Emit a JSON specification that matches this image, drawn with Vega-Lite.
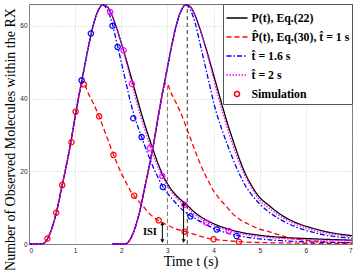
{
"$schema": "https://vega.github.io/schema/vega-lite/v6.json",
"width": 323, "height": 240,
"autosize": {"type": "none"},
"padding": {"left": 29, "top": 4, "right": 8, "bottom": 26},
"background": "white",
"config": {
 "view": {"stroke": "#777", "strokeWidth": 1},
 "axis": {"grid": true, "gridColor": "#aaa", "gridDash": [1,2], "gridWidth": 0.6, "domain": false, "ticks": false,
  "labelFont": "Liberation Sans", "labelFontSize": 6.5, "labelColor": "#222",
  "titleFont": "Liberation Serif", "titleFontSize": 14, "titleFontWeight": "normal", "titleColor": "black"}
},
"layer": [
 {
  "data": {"values": [
{"t":0,"y":0,"s":"a","p":1},{"t":0.27,"y":0,"s":"a","p":1},{"t":0.35,"y":0.5,"s":"a","p":1},{"t":0.4,"y":1.4,"s":"a","p":1},{"t":0.5,"y":4.5,"s":"a","p":1},{"t":0.6,"y":9,"s":"a","p":1},{"t":0.7,"y":15,"s":"a","p":1},{"t":0.8,"y":21,"s":"a","p":1},{"t":0.9,"y":27.5,"s":"a","p":1},{"t":1.0,"y":35,"s":"a","p":1},{"t":1.1,"y":42,"s":"a","p":1},{"t":1.2,"y":48.5,"s":"a","p":1},{"t":1.3,"y":55,"s":"a","p":1},{"t":1.4,"y":60.5,"s":"a","p":1},{"t":1.5,"y":64.2,"s":"a","p":1},{"t":1.6,"y":65.8,"s":"a","p":1},{"t":1.7,"y":65.2,"s":"a","p":1},{"t":1.8,"y":62.8,"s":"a","p":1},{"t":1.9,"y":59.3,"s":"a","p":1},{"t":2.0,"y":55.3,"s":"a","p":1},{"t":2.1,"y":51,"s":"a","p":1},{"t":2.2,"y":46.5,"s":"a","p":1},{"t":2.3,"y":42,"s":"a","p":1},{"t":2.4,"y":37.5,"s":"a","p":1},{"t":2.5,"y":33.2,"s":"a","p":1},{"t":2.6,"y":29.3,"s":"a","p":1},{"t":2.7,"y":25.5,"s":"a","p":1},{"t":2.8,"y":22,"s":"a","p":1},{"t":2.9,"y":19,"s":"a","p":1},{"t":3.0,"y":16.6,"s":"a","p":1},{"t":3.2,"y":13.2,"s":"a","p":1},{"t":3.4,"y":11,"s":"a","p":1},{"t":3.6,"y":8.6,"s":"a","p":1},{"t":3.8,"y":6.9,"s":"a","p":1},{"t":4.0,"y":5.6,"s":"a","p":1},{"t":4.3,"y":4.2,"s":"a","p":1},{"t":4.6,"y":3.2,"s":"a","p":1},{"t":5.0,"y":2.4,"s":"a","p":1},{"t":5.5,"y":1.8,"s":"a","p":1},{"t":6.0,"y":1.5,"s":"a","p":1},{"t":6.5,"y":1.25,"s":"a","p":1},{"t":7.0,"y":1.05,"s":"a","p":1},
{"t":1.8,"y":0,"s":"a","p":2},{"t":2.07,"y":0,"s":"a","p":2},{"t":2.15,"y":0.5,"s":"a","p":2},{"t":2.2,"y":1.4,"s":"a","p":2},{"t":2.3,"y":4.5,"s":"a","p":2},{"t":2.4,"y":9,"s":"a","p":2},{"t":2.5,"y":15,"s":"a","p":2},{"t":2.6,"y":21,"s":"a","p":2},{"t":2.7,"y":27.5,"s":"a","p":2},{"t":2.8,"y":35,"s":"a","p":2},{"t":2.9,"y":42,"s":"a","p":2},{"t":3.0,"y":48.5,"s":"a","p":2},{"t":3.1,"y":55,"s":"a","p":2},{"t":3.2,"y":60.5,"s":"a","p":2},{"t":3.3,"y":64.2,"s":"a","p":2},{"t":3.4,"y":65.8,"s":"a","p":2},{"t":3.5,"y":65.2,"s":"a","p":2},{"t":3.6,"y":62.8,"s":"a","p":2},{"t":3.7,"y":59.3,"s":"a","p":2},{"t":3.8,"y":55.3,"s":"a","p":2},{"t":3.9,"y":51,"s":"a","p":2},{"t":4.0,"y":46.5,"s":"a","p":2},{"t":4.1,"y":42,"s":"a","p":2},{"t":4.2,"y":37.5,"s":"a","p":2},{"t":4.3,"y":33.2,"s":"a","p":2},{"t":4.4,"y":29.3,"s":"a","p":2},{"t":4.5,"y":25.5,"s":"a","p":2},{"t":4.6,"y":22,"s":"a","p":2},{"t":4.7,"y":19,"s":"a","p":2},{"t":4.8,"y":16.6,"s":"a","p":2},{"t":5.0,"y":12.8,"s":"a","p":2},{"t":5.2,"y":10.6,"s":"a","p":2},{"t":5.4,"y":8.6,"s":"a","p":2},{"t":5.6,"y":7.0,"s":"a","p":2},{"t":5.8,"y":5.8,"s":"a","p":2},{"t":6.1,"y":4.5,"s":"a","p":2},{"t":6.4,"y":3.5,"s":"a","p":2},{"t":6.8,"y":2.6,"s":"a","p":2},{"t":7.0,"y":2.3,"s":"a","p":2},
{"t":0,"y":0,"s":"b","p":1},{"t":0.27,"y":0,"s":"b","p":1},{"t":0.35,"y":0.5,"s":"b","p":1},{"t":0.4,"y":1.4,"s":"b","p":1},{"t":0.5,"y":4.5,"s":"b","p":1},{"t":0.6,"y":9,"s":"b","p":1},{"t":0.7,"y":15,"s":"b","p":1},{"t":0.8,"y":21,"s":"b","p":1},{"t":0.9,"y":27.5,"s":"b","p":1},{"t":1.0,"y":35,"s":"b","p":1},{"t":1.1,"y":42,"s":"b","p":1},{"t":1.17,"y":44.3,"s":"b","p":1},{"t":1.3,"y":41,"s":"b","p":1},{"t":1.4,"y":38.5,"s":"b","p":1},{"t":1.5,"y":35.7,"s":"b","p":1},{"t":1.6,"y":32.4,"s":"b","p":1},{"t":1.7,"y":29,"s":"b","p":1},{"t":1.8,"y":25.6,"s":"b","p":1},{"t":1.9,"y":22.4,"s":"b","p":1},{"t":2.0,"y":19.5,"s":"b","p":1},{"t":2.1,"y":17,"s":"b","p":1},{"t":2.2,"y":14.6,"s":"b","p":1},{"t":2.3,"y":12.9,"s":"b","p":1},{"t":2.4,"y":11.4,"s":"b","p":1},{"t":2.5,"y":10,"s":"b","p":1},{"t":2.6,"y":8.5,"s":"b","p":1},{"t":2.7,"y":7.4,"s":"b","p":1},{"t":2.8,"y":6.5,"s":"b","p":1},{"t":3.0,"y":5.2,"s":"b","p":1},{"t":3.2,"y":4.1,"s":"b","p":1},{"t":3.4,"y":3.4,"s":"b","p":1},{"t":3.6,"y":2.6,"s":"b","p":1},{"t":3.8,"y":1.8,"s":"b","p":1},{"t":4.0,"y":1.3,"s":"b","p":1},{"t":4.3,"y":0.9,"s":"b","p":1},{"t":4.6,"y":0.6,"s":"b","p":1},{"t":5.0,"y":0.4,"s":"b","p":1},{"t":5.5,"y":0.3,"s":"b","p":1},{"t":6.0,"y":0.2,"s":"b","p":1},{"t":6.5,"y":0.15,"s":"b","p":1},{"t":7.0,"y":0.1,"s":"b","p":1},
{"t":1.8,"y":0,"s":"b","p":2},{"t":2.07,"y":0,"s":"b","p":2},{"t":2.15,"y":0.5,"s":"b","p":2},{"t":2.2,"y":1.4,"s":"b","p":2},{"t":2.3,"y":4.5,"s":"b","p":2},{"t":2.4,"y":9,"s":"b","p":2},{"t":2.5,"y":15,"s":"b","p":2},{"t":2.6,"y":21,"s":"b","p":2},{"t":2.7,"y":27.5,"s":"b","p":2},{"t":2.8,"y":35,"s":"b","p":2},{"t":2.9,"y":42,"s":"b","p":2},{"t":2.97,"y":44.3,"s":"b","p":2},{"t":3.1,"y":41,"s":"b","p":2},{"t":3.2,"y":38.5,"s":"b","p":2},{"t":3.3,"y":35.7,"s":"b","p":2},{"t":3.4,"y":32.4,"s":"b","p":2},{"t":3.5,"y":29,"s":"b","p":2},{"t":3.6,"y":25.6,"s":"b","p":2},{"t":3.7,"y":22.4,"s":"b","p":2},{"t":3.8,"y":19.5,"s":"b","p":2},{"t":3.9,"y":17,"s":"b","p":2},{"t":4.0,"y":14.6,"s":"b","p":2},{"t":4.1,"y":12.9,"s":"b","p":2},{"t":4.2,"y":11.4,"s":"b","p":2},{"t":4.3,"y":10,"s":"b","p":2},{"t":4.4,"y":8.5,"s":"b","p":2},{"t":4.5,"y":7.4,"s":"b","p":2},{"t":4.6,"y":6.5,"s":"b","p":2},{"t":4.8,"y":5.2,"s":"b","p":2},{"t":5.0,"y":4.1,"s":"b","p":2},{"t":5.2,"y":3.4,"s":"b","p":2},{"t":5.4,"y":2.6,"s":"b","p":2},{"t":5.6,"y":1.8,"s":"b","p":2},{"t":5.8,"y":1.3,"s":"b","p":2},{"t":6.1,"y":0.9,"s":"b","p":2},{"t":6.4,"y":0.6,"s":"b","p":2},{"t":6.8,"y":0.4,"s":"b","p":2},{"t":7.0,"y":0.35,"s":"b","p":2},
{"t":0,"y":0,"s":"c","p":1},{"t":0.27,"y":0,"s":"c","p":1},{"t":0.35,"y":0.5,"s":"c","p":1},{"t":0.4,"y":1.4,"s":"c","p":1},{"t":0.5,"y":4.5,"s":"c","p":1},{"t":0.6,"y":9,"s":"c","p":1},{"t":0.7,"y":15,"s":"c","p":1},{"t":0.8,"y":21,"s":"c","p":1},{"t":0.9,"y":27.5,"s":"c","p":1},{"t":1.0,"y":35,"s":"c","p":1},{"t":1.1,"y":42,"s":"c","p":1},{"t":1.2,"y":48.5,"s":"c","p":1},{"t":1.3,"y":55,"s":"c","p":1},{"t":1.4,"y":60.5,"s":"c","p":1},{"t":1.5,"y":64.2,"s":"c","p":1},{"t":1.6,"y":65.8,"s":"c","p":1},{"t":1.7,"y":64.3,"s":"c","p":1},{"t":1.8,"y":60.8,"s":"c","p":1},{"t":1.9,"y":55.5,"s":"c","p":1},{"t":2.0,"y":50,"s":"c","p":1},{"t":2.1,"y":44.5,"s":"c","p":1},{"t":2.2,"y":39,"s":"c","p":1},{"t":2.3,"y":34.5,"s":"c","p":1},{"t":2.4,"y":30.8,"s":"c","p":1},{"t":2.5,"y":27.3,"s":"c","p":1},{"t":2.6,"y":24,"s":"c","p":1},{"t":2.7,"y":20.9,"s":"c","p":1},{"t":2.8,"y":18.2,"s":"c","p":1},{"t":2.9,"y":15.8,"s":"c","p":1},{"t":3.0,"y":14,"s":"c","p":1},{"t":3.2,"y":11,"s":"c","p":1},{"t":3.4,"y":8.6,"s":"c","p":1},{"t":3.6,"y":7,"s":"c","p":1},{"t":3.8,"y":5.6,"s":"c","p":1},{"t":4.0,"y":4.3,"s":"c","p":1},{"t":4.3,"y":3,"s":"c","p":1},{"t":4.6,"y":2.1,"s":"c","p":1},{"t":5.0,"y":1.4,"s":"c","p":1},{"t":5.5,"y":0.9,"s":"c","p":1},{"t":6.0,"y":0.6,"s":"c","p":1},{"t":6.5,"y":0.45,"s":"c","p":1},{"t":7.0,"y":0.35,"s":"c","p":1},
{"t":1.8,"y":0,"s":"c","p":2},{"t":2.07,"y":0,"s":"c","p":2},{"t":2.15,"y":0.5,"s":"c","p":2},{"t":2.2,"y":1.4,"s":"c","p":2},{"t":2.3,"y":4.5,"s":"c","p":2},{"t":2.4,"y":9,"s":"c","p":2},{"t":2.5,"y":15,"s":"c","p":2},{"t":2.6,"y":21,"s":"c","p":2},{"t":2.7,"y":27.5,"s":"c","p":2},{"t":2.8,"y":35,"s":"c","p":2},{"t":2.9,"y":42,"s":"c","p":2},{"t":3.0,"y":48.5,"s":"c","p":2},{"t":3.1,"y":55,"s":"c","p":2},{"t":3.2,"y":60.5,"s":"c","p":2},{"t":3.3,"y":64.2,"s":"c","p":2},{"t":3.4,"y":65.8,"s":"c","p":2},{"t":3.5,"y":64.3,"s":"c","p":2},{"t":3.6,"y":60.8,"s":"c","p":2},{"t":3.7,"y":55.5,"s":"c","p":2},{"t":3.8,"y":50,"s":"c","p":2},{"t":3.9,"y":44.5,"s":"c","p":2},{"t":4.0,"y":39,"s":"c","p":2},{"t":4.1,"y":34.5,"s":"c","p":2},{"t":4.2,"y":30.8,"s":"c","p":2},{"t":4.3,"y":27.3,"s":"c","p":2},{"t":4.4,"y":24,"s":"c","p":2},{"t":4.5,"y":20.9,"s":"c","p":2},{"t":4.6,"y":18.2,"s":"c","p":2},{"t":4.7,"y":15.8,"s":"c","p":2},{"t":4.8,"y":14,"s":"c","p":2},{"t":5.0,"y":11,"s":"c","p":2},{"t":5.2,"y":8.8,"s":"c","p":2},{"t":5.4,"y":7.1,"s":"c","p":2},{"t":5.6,"y":5.7,"s":"c","p":2},{"t":5.8,"y":4.6,"s":"c","p":2},{"t":6.1,"y":3.4,"s":"c","p":2},{"t":6.4,"y":2.5,"s":"c","p":2},{"t":6.8,"y":1.8,"s":"c","p":2},{"t":7.0,"y":1.6,"s":"c","p":2},
{"t":0,"y":0,"s":"d","p":1},{"t":0.27,"y":0,"s":"d","p":1},{"t":0.35,"y":0.5,"s":"d","p":1},{"t":0.4,"y":1.4,"s":"d","p":1},{"t":0.5,"y":4.5,"s":"d","p":1},{"t":0.6,"y":9,"s":"d","p":1},{"t":0.7,"y":15,"s":"d","p":1},{"t":0.8,"y":21,"s":"d","p":1},{"t":0.9,"y":27.5,"s":"d","p":1},{"t":1.0,"y":35,"s":"d","p":1},{"t":1.1,"y":42,"s":"d","p":1},{"t":1.2,"y":48.5,"s":"d","p":1},{"t":1.3,"y":55,"s":"d","p":1},{"t":1.4,"y":60.5,"s":"d","p":1},{"t":1.5,"y":64.2,"s":"d","p":1},{"t":1.6,"y":65.8,"s":"d","p":1},{"t":1.7,"y":65.2,"s":"d","p":1},{"t":1.8,"y":62.8,"s":"d","p":1},{"t":1.9,"y":59.3,"s":"d","p":1},{"t":2.0,"y":55.3,"s":"d","p":1},{"t":2.1,"y":50.5,"s":"d","p":1},{"t":2.2,"y":45.5,"s":"d","p":1},{"t":2.3,"y":40.5,"s":"d","p":1},{"t":2.4,"y":36,"s":"d","p":1},{"t":2.5,"y":31.8,"s":"d","p":1},{"t":2.6,"y":27.8,"s":"d","p":1},{"t":2.7,"y":24.2,"s":"d","p":1},{"t":2.8,"y":21,"s":"d","p":1},{"t":2.9,"y":18.3,"s":"d","p":1},{"t":3.0,"y":16,"s":"d","p":1},{"t":3.2,"y":12.6,"s":"d","p":1},{"t":3.4,"y":10.4,"s":"d","p":1},{"t":3.6,"y":8,"s":"d","p":1},{"t":3.8,"y":6.3,"s":"d","p":1},{"t":4.0,"y":5.1,"s":"d","p":1},{"t":4.3,"y":3.8,"s":"d","p":1},{"t":4.6,"y":2.8,"s":"d","p":1},{"t":5.0,"y":2.0,"s":"d","p":1},{"t":5.5,"y":1.5,"s":"d","p":1},{"t":6.0,"y":1.2,"s":"d","p":1},{"t":6.5,"y":1.0,"s":"d","p":1},{"t":7.0,"y":0.85,"s":"d","p":1},
{"t":1.8,"y":0,"s":"d","p":2},{"t":2.07,"y":0,"s":"d","p":2},{"t":2.15,"y":0.5,"s":"d","p":2},{"t":2.2,"y":1.4,"s":"d","p":2},{"t":2.3,"y":4.5,"s":"d","p":2},{"t":2.4,"y":9,"s":"d","p":2},{"t":2.5,"y":15,"s":"d","p":2},{"t":2.6,"y":21,"s":"d","p":2},{"t":2.7,"y":27.5,"s":"d","p":2},{"t":2.8,"y":35,"s":"d","p":2},{"t":2.9,"y":42,"s":"d","p":2},{"t":3.0,"y":48.5,"s":"d","p":2},{"t":3.1,"y":55,"s":"d","p":2},{"t":3.2,"y":60.5,"s":"d","p":2},{"t":3.3,"y":64.2,"s":"d","p":2},{"t":3.4,"y":65.8,"s":"d","p":2},{"t":3.5,"y":65.2,"s":"d","p":2},{"t":3.6,"y":62.8,"s":"d","p":2},{"t":3.7,"y":59.3,"s":"d","p":2},{"t":3.8,"y":55.3,"s":"d","p":2},{"t":3.9,"y":50.5,"s":"d","p":2},{"t":4.0,"y":45.5,"s":"d","p":2},{"t":4.1,"y":40.5,"s":"d","p":2},{"t":4.2,"y":36,"s":"d","p":2},{"t":4.3,"y":31.8,"s":"d","p":2},{"t":4.4,"y":27.8,"s":"d","p":2},{"t":4.5,"y":24.2,"s":"d","p":2},{"t":4.6,"y":21,"s":"d","p":2},{"t":4.7,"y":18.3,"s":"d","p":2},{"t":4.8,"y":16,"s":"d","p":2},{"t":5.0,"y":12,"s":"d","p":2},{"t":5.2,"y":9.9,"s":"d","p":2},{"t":5.4,"y":8,"s":"d","p":2},{"t":5.6,"y":6.5,"s":"d","p":2},{"t":5.8,"y":5.3,"s":"d","p":2},{"t":6.1,"y":4.0,"s":"d","p":2},{"t":6.4,"y":3.1,"s":"d","p":2},{"t":6.8,"y":2.3,"s":"d","p":2},{"t":7.0,"y":2.0,"s":"d","p":2}
  ]},
  "mark": {"type": "line", "interpolate": "monotone", "strokeWidth": 1.3},
  "encoding": {
   "x": {"field": "t", "type": "quantitative", "scale": {"domain": [0, 7], "nice": false},
    "axis": {"values": [0,1,2,3,4,5,6,7], "title": "Time t (s)", "labelPadding": 3, "titleX": 161.5, "titleY": 21, "titleBaseline": "alphabetic"}},
   "y": {"field": "y", "type": "quantitative", "scale": {"domain": [0, 66], "nice": false},
    "axis": {"values": [0,10,20,30,40,50,60], "title": "Number of Observed Molecules within the RX", "labelPadding": 2, "titleX": -15, "titleY": 135, "titleBaseline": "alphabetic", "titleAngle": -90, "titleAlign": "center"}},
   "color": {"field": "s", "type": "nominal",
    "scale": {"domain": ["a","b","c","d","e"], "range": ["#000000","#ff0000","#0000ff","#ff00ff","#ff0000"]},
    "legend": {"title": null, "orient": "top-right", "offset": 0, "fillColor": "white", "strokeColor": "#555", "padding": 2.5, "rowPadding": -8.6,
     "labelFont": "Liberation Serif", "labelFontSize": 11.8, "labelFontWeight": "bold", "labelColor": "black", "labelLimit": 300, "labelOffset": 3,
     "symbolStrokeWidth": 1.5, "symbolSize": 441,
     "labelExpr": "datum.value === 'a' ? 'P(t), Eq.(22)' : datum.value === 'b' ? 'P\u0302(t), Eq.(30), t\u0302 = 1 s' : datum.value === 'c' ? 't\u0302 = 1.6 s' : datum.value === 'd' ? 't\u0302 = 2 s' : 'Simulation'",
     "encode": {"symbols": {"update": {"shape": {"signal": "datum.value === 'e' ? 'circle' : 'stroke'"}, "size": {"signal": "datum.value === 'e' ? 25 : 441"}, "fill": {"value": "transparent"}}}}}},
   "strokeDash": {"field": "s", "type": "nominal",
    "scale": {"domain": ["a","b","c","d","e"], "range": [[1,0],[5,3],[5,2,1.5,2],[1.5,1.5],[1,0]]}},
   "detail": {"field": "p", "type": "nominal"}
  }
 },
 {
  "data": {"values": [
{"t":0.40,"y":1.5,"s":"b"},{"t":0.59,"y":8.6,"s":"b"},{"t":0.72,"y":16.2,"s":"b"},{"t":0.92,"y":28,"s":"b"},{"t":1.01,"y":36.4,"s":"b"},{"t":1.19,"y":43.9,"s":"b"},{"t":1.52,"y":35.1,"s":"b"},{"t":1.83,"y":24.5,"s":"b"},{"t":2.28,"y":13.3,"s":"b"},{"t":2.81,"y":6.5,"s":"b"},{"t":3.37,"y":3.4,"s":"b"},{"t":4.0,"y":1.3,"s":"b"},{"t":4.55,"y":0.6,"s":"b"},
{"t":1.14,"y":45,"s":"c"},{"t":1.34,"y":57.9,"s":"c"},{"t":1.81,"y":60,"s":"c"},{"t":1.92,"y":54.2,"s":"c"},{"t":2.26,"y":34.6,"s":"c"},{"t":2.44,"y":29.4,"s":"c"},{"t":2.9,"y":15.7,"s":"c"},{"t":3.5,"y":7.6,"s":"c"},{"t":4.07,"y":4.0,"s":"c"},{"t":4.5,"y":2.2,"s":"c"},
{"t":1.76,"y":63.8,"s":"d"},{"t":2.05,"y":53.3,"s":"d"},{"t":2.23,"y":44,"s":"d"},{"t":2.62,"y":26.3,"s":"d"},{"t":2.89,"y":18.7,"s":"d"},{"t":3.37,"y":10.8,"s":"d"},{"t":3.84,"y":5.9,"s":"d"},{"t":4.33,"y":3.6,"s":"d"}
  ]},
  "mark": {"type": "point", "filled": false, "size": 28, "strokeWidth": 1.2, "opacity": 1},
  "encoding": {
   "x": {"field": "t", "type": "quantitative"},
   "y": {"field": "y", "type": "quantitative"},
   "stroke": {"field": "s", "type": "nominal", "scale": {"domain": ["b","c","d"], "range": ["#ff0000","#0000ff","#ff00ff"]}, "legend": null}
  }
 },
 {
  "data": {"values": [{"t":3.0,"y":0,"y2":44.3}]},
  "mark": {"type": "rule", "color": "#666", "strokeDash": [4,3], "strokeWidth": 0.9},
  "encoding": {"x": {"field": "t", "type": "quantitative"}, "y": {"field": "y", "type": "quantitative"}, "y2": {"field": "y2"}}
 },
 {
  "data": {"values": [{"t":3.43,"y":0,"y2":65.8}]},
  "mark": {"type": "rule", "color": "#222", "strokeDash": [4,3], "strokeWidth": 0.9},
  "encoding": {"x": {"field": "t", "type": "quantitative"}, "y": {"field": "y", "type": "quantitative"}, "y2": {"field": "y2"}}
 },
 {
  "data": {"values": [{"t":2.89,"y":0.5,"y2":6.0},{"t":3.35,"y":0.5,"y2":11.4}]},
  "mark": {"type": "rule", "color": "black", "strokeWidth": 1},
  "encoding": {"x": {"field": "t", "type": "quantitative"}, "y": {"field": "y", "type": "quantitative"}, "y2": {"field": "y2"}}
 },
 {
  "data": {"values": [{"t":2.89,"y":5.6,"d":"up"},{"t":2.89,"y":0.8,"d":"down"},{"t":3.35,"y":11.0,"d":"up"},{"t":3.35,"y":0.8,"d":"down"}]},
  "mark": {"type": "point", "filled": true, "color": "black", "size": 16, "opacity": 1},
  "encoding": {"x": {"field": "t", "type": "quantitative"}, "y": {"field": "y", "type": "quantitative"},
   "shape": {"field": "d", "type": "nominal", "scale": {"domain": ["up","down"], "range": ["triangle-up","triangle-down"]}, "legend": null}}
 },
 {
  "data": {"values": [{"t":2.62,"y":3.3,"label":"ISI"}]},
  "mark": {"type": "text", "font": "Liberation Serif", "fontSize": 10.5, "fontWeight": "bold", "color": "black", "align": "center", "baseline": "middle"},
  "encoding": {"x": {"field": "t", "type": "quantitative"}, "y": {"field": "y", "type": "quantitative"}, "text": {"field": "label"}}
 }
]
}
